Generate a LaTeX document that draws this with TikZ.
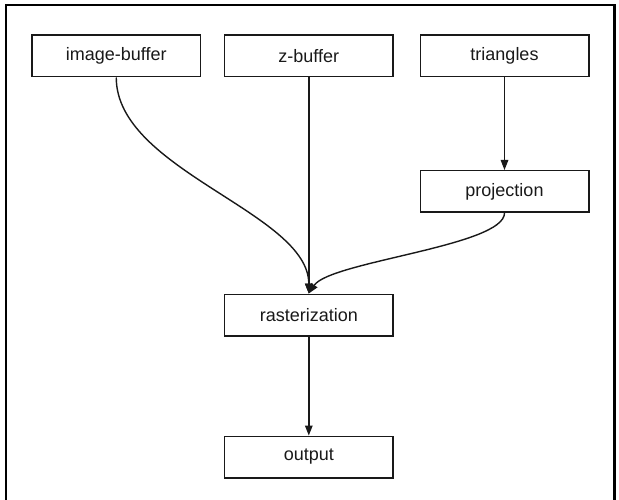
\documentclass[tikz,border=0pt]{standalone}
\usepackage{fontspec}
\setmainfont{Liberation Sans}
\usetikzlibrary{arrows.meta}
\tikzset{
  box/.style={draw=black!90, line width=1.5pt, minimum width=168.5pt, minimum height=41.5pt,
    inner sep=0pt, font=\fontsize{18}{20}\selectfont, text=black!90},
  edge/.style={draw=black!90, line width=1.4pt, -{Triangle[length=10pt,width=7.5pt]}},
  frame/.style={line width=2.5pt, black}
}
\begin{document}
\begin{tikzpicture}[x=1pt,y=-1pt]
\useasboundingbox (0,0) rectangle (619,500);
\draw[frame] (6,501) -- (6,5) -- (614.5,5) -- (614.5,501);
\node[box] (ib)   at (116.25,56)  {image-buffer};
\node[box] (zb)   at (308.8,56)   {z-buffer};
\node[box] (tri)  at (504.5,56)   {triangles};
\node[box] (proj) at (504.5,191.5){projection};
\node[box] (ras)  at (308.8,315)  {rasterization};
\node[box] (out)  at (308.8,457)  {output};
\draw[edge] (ib.south) .. controls +(0,93) and +(0,-81) .. (ras.north);
\draw[edge] (zb.south) -- (ras.north);
\draw[edge] (tri.south) -- (proj.north);
\draw[edge] (proj.south) .. controls +(0,33) and +(21,-32) .. (ras.north);
\draw[edge] (ras.south) -- (out.north);
\end{tikzpicture}
\end{document}
